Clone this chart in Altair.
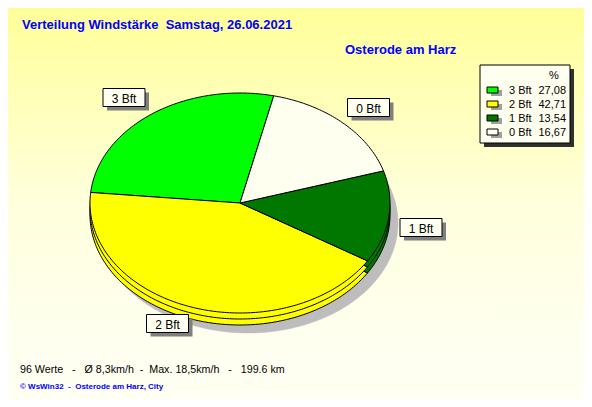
import altair as alt
import numpy as np
import pandas as pd

# ---------------- data ----------------
categories = ["3 Bft", "2 Bft", "1 Bft", "0 Bft"]
percent = [27.08, 42.71, 13.54, 16.67]
percent_labels = ["27,08", "42,71", "13,54", "16,67"]
colors = ["#00FF00", "#FFFF00", "#007800", "#FFFFF0"]

title_text = "Verteilung Windstärke  Samstag, 26.06.2021"
station_text = "Osterode am Harz"
stats_text = "96 Werte   -   Ø 8,3km/h  -  Max. 18,5km/h   -   199.6 km"
credit_text = "© WsWin32  -  Osterode am Harz, City"

# ---------------- layout ----------------
W, H = 576, 391
CX, CY, RX, RY = 232, 195, 150, 110
START_DEG = 77
THICK = 12
LAYERS = [THICK, THICK / 2, 0]
SHADOW_DX, SHADOW_DY = 8, 8
FONT = "Liberation Sans"

# label box centres (chart px) per category
label_pos = {"3 Bft": (116, 89.5), "2 Bft": (159.5, 315.5),
             "1 Bft": (413, 219.5), "0 Bft": (360.5, 99.5)}
BOX_W, BOX_H = 42, 18


def keep_spaces(s):
    return s.replace(" ", "\u00a0")


# ---------------- pie geometry table ----------------
cum = np.concatenate([[0], np.cumsum(percent)]) / sum(percent) * 360 + START_DEG
rows = []
for li, off in enumerate(LAYERS):
    for k, cat in enumerate(categories):
        a0, a1 = cum[k], cum[k + 1]
        n = max(int(abs(a1 - a0)), 2)
        angs = np.radians(np.linspace(a0, a1, n + 1))
        pts = [(0.0, 0.0)] + [(np.cos(a), np.sin(a)) for a in angs] + [(0.0, 0.0)]
        for i, (u, v) in enumerate(pts):
            rows.append(dict(layer=li, cat=cat, i=i, u=u, v=v - off / RY))
pie_df = pd.DataFrame(rows)

angs = np.radians(np.arange(0, 361, 2))
shadow_df = pd.DataFrame(dict(
    i=np.arange(len(angs)),
    u=np.cos(angs) + SHADOW_DX / RX,
    v=np.sin(angs) - (THICK + SHADOW_DY) / RY,
))

xs = alt.Scale(domain=[-CX / RX, (W - CX) / RX], nice=False, zero=False)
ys = alt.Scale(domain=[(CY - H) / RY, CY / RY], nice=False, zero=False)

background = alt.Chart(pd.DataFrame({"a": [0]})).mark_rect(
    color=alt.Gradient(
        gradient="linear",
        stops=[alt.GradientStop(color="#FFFF99", offset=0),
               alt.GradientStop(color="#FFFFDD", offset=0.5),
               alt.GradientStop(color="#FFFFF0", offset=0.85),
               alt.GradientStop(color="#FFFFF2", offset=1)],
        x1=0, x2=0, y1=0, y2=1)
).encode(x=alt.value(0), x2=alt.value(W), y=alt.value(0), y2=alt.value(H))

shadow = alt.Chart(shadow_df).mark_line(strokeWidth=0.5).encode(
    x=alt.X("u:Q", scale=xs, axis=None),
    y=alt.Y("v:Q", scale=ys, axis=None),
    order="i:Q",
    fill=alt.value("#BDBDBD"),
    stroke=alt.value("#BDBDBD"),
)


def pie_layer(li):
    return alt.Chart(pie_df[pie_df.layer == li]).mark_line(
        strokeWidth=1, strokeJoin="miter"
    ).encode(
        x=alt.X("u:Q", scale=xs, axis=None),
        y=alt.Y("v:Q", scale=ys, axis=None),
        fill=alt.Fill("cat:N", scale=alt.Scale(domain=categories, range=colors), legend=None),
        stroke=alt.value("black"),
        detail="cat:N",
        order="i:Q",
    )


pies = [pie_layer(li) for li in range(len(LAYERS))]

# ---------------- slice labels ----------------
lab_df = pd.DataFrame(dict(
    cat=categories,
    cx=[label_pos[c][0] for c in categories],
    cy=[label_pos[c][1] for c in categories],
))
lab_df["x0"] = lab_df.cx - BOX_W / 2
lab_df["x1"] = lab_df.cx + BOX_W / 2
lab_df["y0"] = lab_df.cy - BOX_H / 2
lab_df["y1"] = lab_df.cy + BOX_H / 2
lab_df["sx0"] = lab_df.x0 + 4
lab_df["sx1"] = lab_df.x1 + 4
lab_df["sy0"] = lab_df.y0 + 4
lab_df["sy1"] = lab_df.y1 + 4

lab_shadow = alt.Chart(lab_df).mark_rect(color="#808080").encode(
    x=alt.X("sx0:Q", scale=None), x2="sx1:Q",
    y=alt.Y("sy0:Q", scale=None), y2="sy1:Q")
lab_box = alt.Chart(lab_df).mark_rect(fill="#FFFFF0", stroke="black", strokeWidth=1).encode(
    x=alt.X("x0:Q", scale=None), x2="x1:Q",
    y=alt.Y("y0:Q", scale=None), y2="y1:Q")
lab_text = alt.Chart(lab_df).mark_text(font=FONT, fontSize=12, color="black",
                                       baseline="middle", align="center", dy=1).encode(
    x=alt.X("cx:Q", scale=None), y=alt.Y("cy:Q", scale=None), text="cat:N")

# ---------------- legend ----------------
LX0, LX1, LY0, LY1 = 472, 562, 57, 135
leg_shadow = alt.Chart(pd.DataFrame({"a": [0]})).mark_rect(color="#303030").encode(
    x=alt.value(LX0 + 4), x2=alt.value(LX1 + 4), y=alt.value(LY0 + 4), y2=alt.value(LY1 + 4))
leg_box = alt.Chart(pd.DataFrame({"a": [0]})).mark_rect(fill="#FFFFF0", stroke="black", strokeWidth=1).encode(
    x=alt.value(LX0), x2=alt.value(LX1), y=alt.value(LY0), y2=alt.value(LY1))
leg_pct = alt.Chart(pd.DataFrame({"a": [0]})).mark_text(
    font=FONT, fontSize=11, align="center", baseline="alphabetic", color="black", text="%"
).encode(x=alt.value(546), y=alt.value(71))

leg_df = pd.DataFrame(dict(cat=categories, val=percent_labels))
leg_df["yb"] = 86 + 14 * np.arange(len(categories))
leg_df["s_y0"] = leg_df.yb - 7
leg_df["s_y1"] = leg_df.yb - 1
leg_df["sh_y0"] = leg_df.yb - 4
leg_df["sh_y1"] = leg_df.yb + 2
leg_df["sx0"] = 479
leg_df["sx1"] = 490
leg_df["shx0"] = 483
leg_df["shx1"] = 494
leg_df["tx"] = 501
leg_df["vx"] = 558

leg_sw_sh = alt.Chart(leg_df).mark_rect(color="#A0A0A0").encode(
    x=alt.X("shx0:Q", scale=None), x2="shx1:Q",
    y=alt.Y("sh_y0:Q", scale=None), y2="sh_y1:Q")
leg_sw = alt.Chart(leg_df).mark_rect(stroke="black", strokeWidth=1).encode(
    x=alt.X("sx0:Q", scale=None), x2="sx1:Q",
    y=alt.Y("s_y0:Q", scale=None), y2="s_y1:Q",
    fill=alt.Fill("cat:N", scale=alt.Scale(domain=categories, range=colors), legend=None))
leg_lab = alt.Chart(leg_df).mark_text(font=FONT, fontSize=11, align="left",
                                      baseline="alphabetic", color="black").encode(
    x=alt.X("tx:Q", scale=None), y=alt.Y("yb:Q", scale=None), text="cat:N")
leg_val = alt.Chart(leg_df).mark_text(font=FONT, fontSize=11, align="right",
                                      baseline="alphabetic", color="black").encode(
    x=alt.X("vx:Q", scale=None), y=alt.Y("yb:Q", scale=None), text="val:N")

# ---------------- texts ----------------
def txt(s, x, y, size, color, weight="normal"):
    return alt.Chart(pd.DataFrame({"a": [0]})).mark_text(
        text=keep_spaces(s), font=FONT, fontSize=size, fontWeight=weight, color=color,
        align="left", baseline="alphabetic"
    ).encode(x=alt.value(x), y=alt.value(y))


title = txt(title_text, 14, 21, 13, "#0000FF", "bold")
station = txt(station_text, 337, 46, 13, "#0000FF", "bold")
stats = txt(stats_text, 12, 365, 10.7, "black")
credit = txt(credit_text, 12, 381, 8, "#0000FF", "bold")

chart = alt.layer(
    background, shadow, *pies,
    lab_shadow, lab_box, lab_text,
    leg_shadow, leg_box, leg_pct, leg_sw_sh, leg_sw, leg_lab, leg_val,
    title, station, stats, credit,
).properties(
    width=W, height=H, autosize=alt.AutoSizeParams(type="none"), padding=0
).configure_view(stroke=None).configure(background="#FFFF99")

chart.save("out.html", embed_options={"renderer": "svg", "actions": False})
